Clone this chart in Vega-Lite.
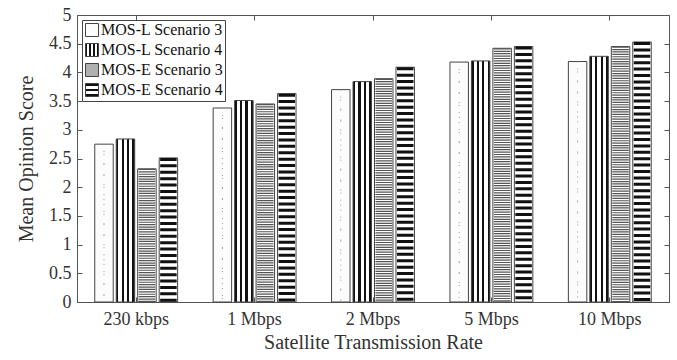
{
  "$schema": "https://vega.github.io/schema/vega-lite/v6.json",
  "width": 592,
  "height": 287,
  "autosize": {"type": "none"},
  "padding": {"left": 77, "top": 15, "right": 8, "bottom": 58},
  "background": "white",
  "config": {
    "font": "Liberation Serif",
    "view": {"stroke": "#555", "strokeWidth": 1},
    "axis": {"labelFont": "Liberation Serif", "titleFont": "Liberation Serif", "labelColor": "#333", "titleColor": "#333", "titleFontWeight": "normal", "domainColor": "#555", "tickColor": "#555", "grid": false}
  },
  "data": {
    "values": [
      {"rate": "230 kbps", "series": "MOS-L Scenario 3", "mos": 2.75},
      {"rate": "230 kbps", "series": "MOS-L Scenario 4", "mos": 2.84},
      {"rate": "230 kbps", "series": "MOS-E Scenario 3", "mos": 2.32},
      {"rate": "230 kbps", "series": "MOS-E Scenario 4", "mos": 2.51},
      {"rate": "1 Mbps", "series": "MOS-L Scenario 3", "mos": 3.38},
      {"rate": "1 Mbps", "series": "MOS-L Scenario 4", "mos": 3.51},
      {"rate": "1 Mbps", "series": "MOS-E Scenario 3", "mos": 3.45},
      {"rate": "1 Mbps", "series": "MOS-E Scenario 4", "mos": 3.63},
      {"rate": "2 Mbps", "series": "MOS-L Scenario 3", "mos": 3.70},
      {"rate": "2 Mbps", "series": "MOS-L Scenario 4", "mos": 3.84},
      {"rate": "2 Mbps", "series": "MOS-E Scenario 3", "mos": 3.89},
      {"rate": "2 Mbps", "series": "MOS-E Scenario 4", "mos": 4.09},
      {"rate": "5 Mbps", "series": "MOS-L Scenario 3", "mos": 4.18},
      {"rate": "5 Mbps", "series": "MOS-L Scenario 4", "mos": 4.20},
      {"rate": "5 Mbps", "series": "MOS-E Scenario 3", "mos": 4.42},
      {"rate": "5 Mbps", "series": "MOS-E Scenario 4", "mos": 4.45},
      {"rate": "10 Mbps", "series": "MOS-L Scenario 3", "mos": 4.19},
      {"rate": "10 Mbps", "series": "MOS-L Scenario 4", "mos": 4.28},
      {"rate": "10 Mbps", "series": "MOS-E Scenario 3", "mos": 4.45},
      {"rate": "10 Mbps", "series": "MOS-E Scenario 4", "mos": 4.53}
    ]
  },
  "encoding": {
    "x": {
      "field": "rate", "type": "nominal", "sort": ["230 kbps", "1 Mbps", "2 Mbps", "5 Mbps", "10 Mbps"],
      "scale": {"paddingInner": 0.3, "paddingOuter": 0.15},
      "axis": {"title": "Satellite Transmission Rate", "labelAngle": 0, "labelFontSize": 18, "titleFontSize": 20, "tickSize": -5, "labelPadding": 13, "titlePadding": 4}
    },
    "xOffset": {
      "field": "series", "type": "nominal",
      "scale": {"domain": ["MOS-L Scenario 3", "MOS-L Scenario 4", "MOS-E Scenario 3", "MOS-E Scenario 4"], "paddingInner": 0.14, "paddingOuter": 0}
    },
    "y": {
      "field": "mos", "type": "quantitative",
      "scale": {"domain": [0, 5], "nice": false},
      "axis": {"title": "Mean Opinion Score", "values": [0, 0.5, 1, 1.5, 2, 2.5, 3, 3.5, 4, 4.5, 5], "labelExpr": "'' + datum.value", "labelFontSize": 18, "titleFontSize": 20, "tickSize": -5, "labelPadding": 11, "titlePadding": 12}
    }
  },
  "resolve": {"axis": {"x": "independent", "y": "independent"}},
  "layer": [
    {
      "transform": [{"filter": "datum.series === 'MOS-L Scenario 3'"}],
      "mark": {"type": "rule", "color": "#444", "strokeWidth": 1},
      "encoding": {
        "y2": {"datum": 0},
        "x": {"field": "rate", "type": "nominal", "sort": ["230 kbps", "1 Mbps", "2 Mbps", "5 Mbps", "10 Mbps"], "axis": null},
        "y": {"field": "mos", "type": "quantitative", "axis": null},
        "opacity": {
          "field": "series", "type": "nominal",
          "scale": {"domain": ["MOS-L Scenario 3", "MOS-L Scenario 4", "MOS-E Scenario 3", "MOS-E Scenario 4"], "range": [1, 1, 1, 1]},
          "legend": {
            "title": null, "orient": "top-left", "offset": 5, "padding": 2,
            "strokeColor": "#444", "fillColor": "white",
            "labelFont": "Liberation Serif", "labelFontSize": 16, "labelColor": "#111",
            "symbolType": "square", "symbolSize": 169, "symbolStrokeColor": "#444", "symbolStrokeWidth": 1, "symbolOpacity": 1,
            "rowPadding": 2, "labelOffset": 1, "labelLimit": 200,
            "symbolFillColor": {"expr": "datum.value === 'MOS-L Scenario 4' ? {gradient: 'linear', x1: 0, y1: 0, x2: 1, y2: 0, stops: [{offset: 0, color: '#111'}, {offset: 0.15, color: '#111'}, {offset: 0.15, color: '#fff'}, {offset: 0.28, color: '#fff'}, {offset: 0.28, color: '#111'}, {offset: 0.43, color: '#111'}, {offset: 0.43, color: '#fff'}, {offset: 0.57, color: '#fff'}, {offset: 0.57, color: '#111'}, {offset: 0.72, color: '#111'}, {offset: 0.72, color: '#fff'}, {offset: 0.85, color: '#fff'}, {offset: 0.85, color: '#111'}, {offset: 1, color: '#111'}]} : datum.value === 'MOS-E Scenario 4' ? {gradient: 'linear', x1: 0, y1: 0, x2: 0, y2: 1, stops: [{offset: 0, color: '#111'}, {offset: 0.2, color: '#111'}, {offset: 0.2, color: '#fff'}, {offset: 0.4, color: '#fff'}, {offset: 0.4, color: '#111'}, {offset: 0.6, color: '#111'}, {offset: 0.6, color: '#fff'}, {offset: 0.8, color: '#fff'}, {offset: 0.8, color: '#111'}, {offset: 1, color: '#111'}]} : datum.value === 'MOS-E Scenario 3' ? '#b0b0b0' : '#fcfcfc'"}
          }
        }
      }
    },
    {
      "mark": {"type": "bar", "stroke": "#444", "strokeWidth": 1},
      "encoding": {
        "fill": {
          "condition": [
            {"test": "datum.series === 'MOS-L Scenario 4'", "value": {"gradient": "linear", "x1": 0, "y1": 0, "x2": 1, "y2": 0, "stops": [
                {"offset": 0, "color": "#111"}, {"offset": 0.12, "color": "#111"},
                {"offset": 0.12, "color": "#fff"}, {"offset": 0.293, "color": "#fff"},
                {"offset": 0.293, "color": "#111"}, {"offset": 0.413, "color": "#111"},
                {"offset": 0.413, "color": "#fff"}, {"offset": 0.587, "color": "#fff"},
                {"offset": 0.587, "color": "#111"}, {"offset": 0.707, "color": "#111"},
                {"offset": 0.707, "color": "#fff"}, {"offset": 0.88, "color": "#fff"},
                {"offset": 0.88, "color": "#111"}, {"offset": 1, "color": "#111"}]}},
            {"test": "datum.series === 'MOS-E Scenario 3'", "value": "#ffffff"},
            {"test": "datum.series === 'MOS-E Scenario 4'", "value": "#ffffff"}
          ],
          "value": "#fcfcfc"
        }
      }
    },
    {
      "transform": [{"filter": "datum.series === 'MOS-L Scenario 3'"}],
      "mark": {"type": "rule", "color": "#999", "strokeWidth": 1, "strokeDash": [1, 9], "xOffset": -4},
      "encoding": {
        "y2": {"datum": 0},
        "x": {"field": "rate", "type": "nominal", "sort": ["230 kbps", "1 Mbps", "2 Mbps", "5 Mbps", "10 Mbps"], "axis": null},
        "y": {"field": "mos", "type": "quantitative", "axis": null}
      }
    },
    {
      "transform": [{"filter": "datum.series === 'MOS-L Scenario 3'"}],
      "mark": {"type": "rule", "color": "#999", "strokeWidth": 1, "strokeDash": [1, 11], "strokeDashOffset": 5, "xOffset": 3},
      "encoding": {
        "y2": {"datum": 0},
        "x": {"field": "rate", "type": "nominal", "sort": ["230 kbps", "1 Mbps", "2 Mbps", "5 Mbps", "10 Mbps"], "axis": null},
        "y": {"field": "mos", "type": "quantitative", "axis": null}
      }
    },
    {
      "transform": [{"filter": "datum.series === 'MOS-E Scenario 3'"}],
      "mark": {"type": "rule", "color": "#555", "strokeWidth": 16.5, "strokeDash": [1.2, 1.2]},
      "encoding": {
        "y2": {"datum": 0},
        "x": {"field": "rate", "type": "nominal", "sort": ["230 kbps", "1 Mbps", "2 Mbps", "5 Mbps", "10 Mbps"],
              "axis": {"orient": "top", "labels": false, "title": null, "domain": false, "tickSize": -5}},
        "y": {"field": "mos", "type": "quantitative",
              "axis": {"orient": "right", "labels": false, "title": null, "domain": false, "tickSize": -5, "values": [0, 0.5, 1, 1.5, 2, 2.5, 3, 3.5, 4, 4.5, 5]}}
      }
    },
    {
      "transform": [{"filter": "datum.series === 'MOS-E Scenario 4'"}],
      "mark": {"type": "rule", "color": "#111", "strokeWidth": 16.5, "strokeDash": [3, 3.4]},
      "encoding": {
        "y2": {"datum": 0},
        "x": {"field": "rate", "type": "nominal", "sort": ["230 kbps", "1 Mbps", "2 Mbps", "5 Mbps", "10 Mbps"], "axis": null},
        "y": {"field": "mos", "type": "quantitative", "axis": null}
      }
    }
  ]
}
